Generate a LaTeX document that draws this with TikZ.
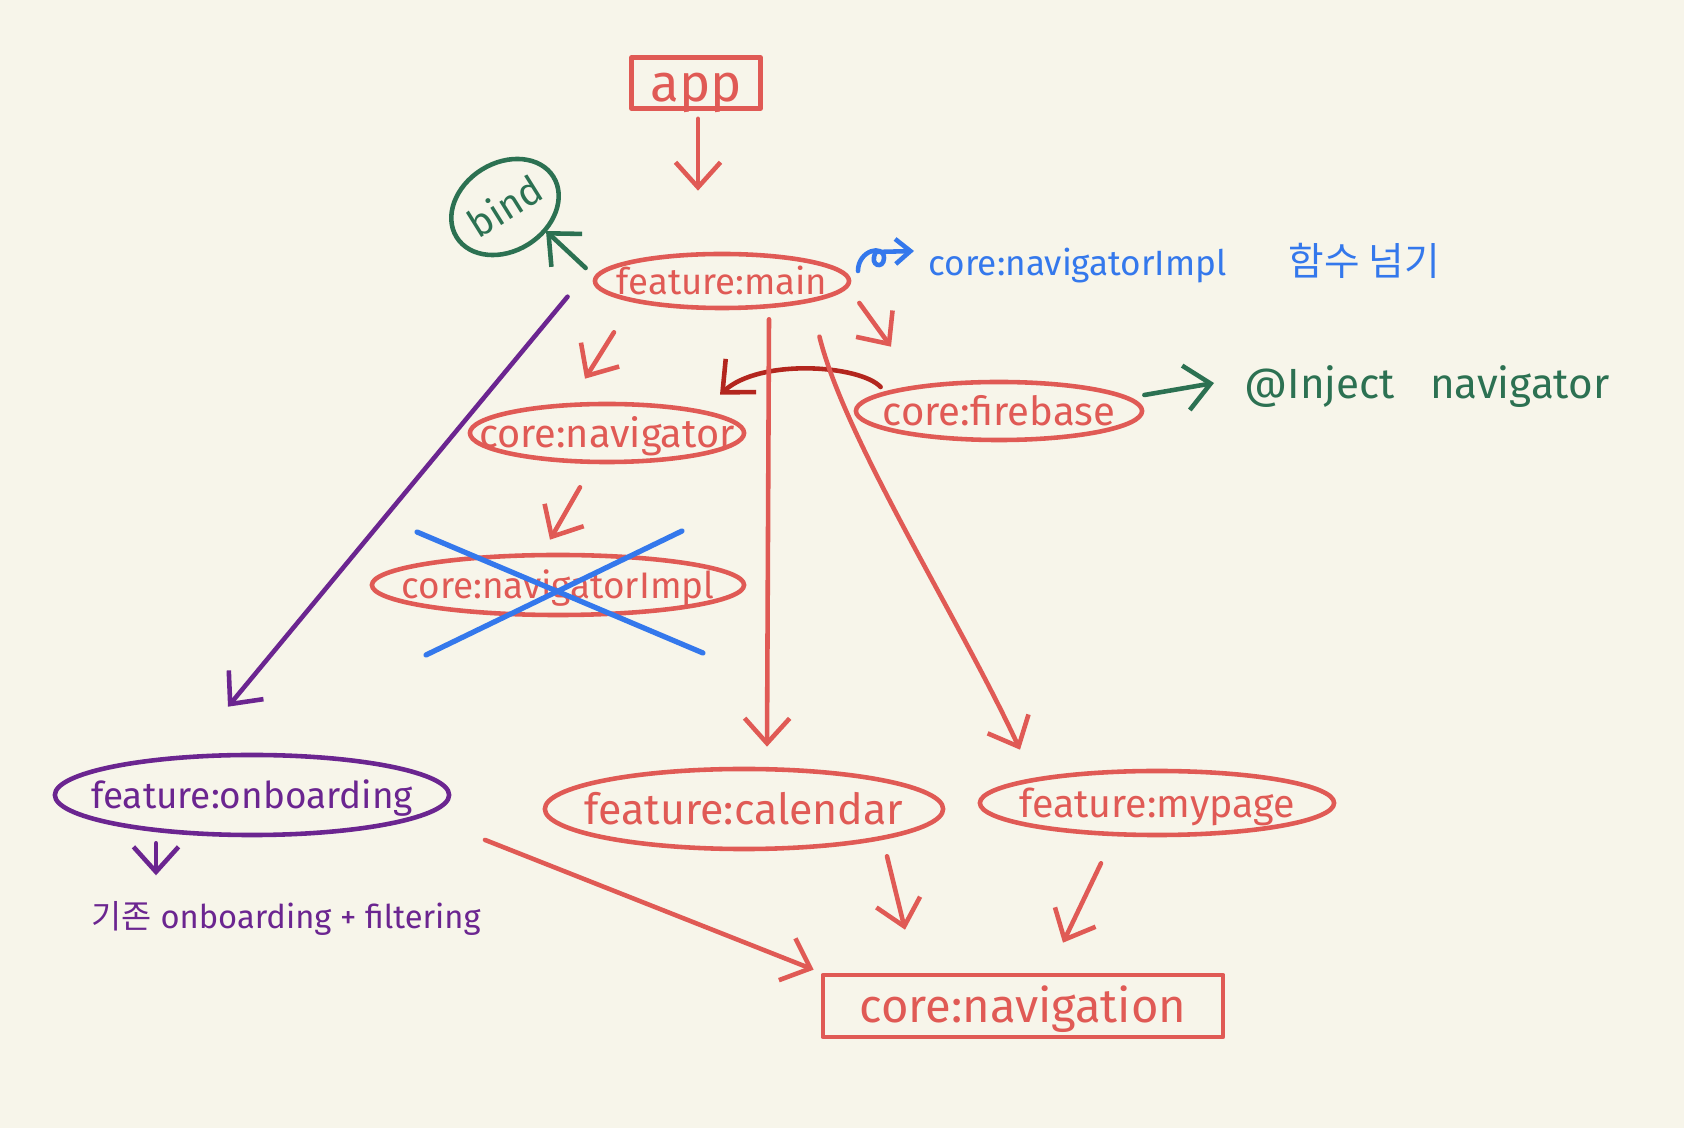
\documentclass[tikz,border=0pt]{standalone}
\usepackage{fontspec}
\setmainfont{Fira Sans}
\newfontfamily\krfont{Noto Sans CJK KR}
\usetikzlibrary{shapes.geometric,arrows.meta,calc}
\definecolor{bgcream}{HTML}{F7F5EA}
\definecolor{penred}{HTML}{E05A55}
\definecolor{pendarkred}{HTML}{B3261E}
\definecolor{penpurple}{HTML}{6B2590}
\definecolor{pengreen}{HTML}{2C7152}
\definecolor{penblue}{HTML}{3478EC}
% text that does not size the ellipse round it
\newcommand{\modtext}[1]{\makebox[0pt]{\raisebox{-0.36em}[0pt][0pt]{#1}}}
\tikzset{
  pen/.style={line width=1.3pt,line cap=round,line join=round},
  mod/.style={pen,draw=penred,text=penred,ellipse,inner sep=0pt},
  box/.style={pen,draw=penred,text=penred,rectangle,inner sep=0pt},
  hand/.style={pen,-{Straight Barb[length=2.5mm,width=4.5mm]}},
}
\begin{document}
\begin{tikzpicture}[x=0.01cm,y=-0.01cm]
\fill[bgcream] (0,0) rectangle (1684,1128);
\useasboundingbox (0,0) rectangle (1684,1128);
% modules
\node[box,minimum width=1.29cm,minimum height=0.51cm,font=\fontsize{15}{18}\selectfont] (app) at (696,83) {\modtext{app}};
\node[mod,minimum width=2.54cm,minimum height=0.54cm,font=\fontsize{10.4}{13}\selectfont] (main) at (722,281) {\modtext{feature:main}};
\node[pen,draw=pengreen,text=pengreen,ellipse,inner sep=0pt,minimum width=1.14cm,minimum height=0.88cm,rotate=32,font=\fontsize{11}{14}\selectfont] (bind) at (505,207) {\modtext{bind}};
\node[mod,minimum width=2.74cm,minimum height=0.58cm,font=\fontsize{11.3}{14}\selectfont] (navigator) at (607,433) {\modtext{core:navigator}};
\node[mod,minimum width=2.86cm,minimum height=0.58cm,font=\fontsize{11.4}{14}\selectfont] (firebase) at (999,411) {\modtext{core:firebase}};
\node[mod,minimum width=3.72cm,minimum height=0.6cm,font=\fontsize{10.5}{13}\selectfont] (navImpl) at (558,585) {\modtext{core:navigatorImpl}};
\node[mod,draw=penpurple,text=penpurple,minimum width=3.94cm,minimum height=0.8cm,font=\fontsize{10.5}{13}\selectfont] (onboarding) at (252,795) {\modtext{feature:onboarding}};
\node[mod,minimum width=3.98cm,minimum height=0.8cm,font=\fontsize{12.2}{14}\selectfont] (calendar) at (744,809) {\modtext{feature:calendar}};
\node[mod,minimum width=3.54cm,minimum height=0.64cm,font=\fontsize{11.2}{14}\selectfont] (mypage) at (1157,803) {\modtext{feature:mypage}};
\node[box,minimum width=4.0cm,minimum height=0.62cm,font=\fontsize{13.4}{16}\selectfont] (navigation) at (1023,1006) {\modtext{core:navigation}};
% notes
\node[text=penblue,anchor=west,inner sep=0pt,font=\fontsize{10}{13}\selectfont] (implNote) at (928,263) {core:navigatorImpl\hspace{0.62cm}{\krfont\fontsize{11}{13}\selectfont 함수 넘기}};
\node[text=pengreen,anchor=west,inner sep=0pt,font=\fontsize{12}{15}\selectfont] (inject) at (1244,387) {@Inject\hspace{0.35cm}navigator};
\node[text=penpurple,anchor=west,inner sep=0pt,font=\fontsize{9.3}{12}\selectfont] (legacy) at (91,918) {{\krfont 기존} onboarding + filtering};

% arrows
\draw[hand,penred] ($(app.south)+(2,8)$) -- ($(main.north)+(-24,-61)$);
\draw[hand,pengreen] ($(main.west)+(-7,-13)$) -- ($(bind)+(41,24)$);
\draw[hand,penred] ($(main.south)+(-108,22)$) -- ($(navigator.north)+(-22,-23)$);
\draw[hand,penred] ($(main.east)+(8,22)$) -- ($(firebase.north)+(-108,-33)$);
\draw[hand,pendarkred] ($(firebase.west)+(27,-24)$) .. controls (860,365) and (760,358) .. ($(navigator.north)+(113,-7)$);
\draw[hand,pengreen] ($(firebase.east)+(0,-16)$) -- ($(inject.west)+(-30,-4)$);
\draw[hand,penred] ($(navigator.south)+(-27,23)$) -- ($(navImpl.north)+(-8,-13)$);
\draw[hand,penpurple] ($(main.south west)+(-63,-5)$) -- ($(onboarding.north)+(-24,-46)$);
\draw[hand,penred] ($(main.south)+(47,9)$) -- ($(calendar.north)+(23,-20)$);
\draw[hand,penred] ($(main.south east)+(6,35)$) .. controls (845,440) and (960,620) .. ($(mypage.north)+(-137,-19)$);
\draw[hand,penpurple] ($(onboarding.south)+(-96,6)$) -- ($(legacy.north west)+(65,-25)$);
\draw[hand,penred] ($(onboarding.south east)+(92,15)$) -- ($(navigation.north west)+(-7,-3)$);
\draw[hand,penred] ($(calendar.south)+(143,5)$) -- ($(navigation.north)+(-118,-43)$);
\draw[hand,penred] ($(mypage.south)+(-56,26)$) -- ($(navigation.north)+(40,-30)$);
% cross out
\draw[pen,penblue,line width=1.5pt] ($(navImpl)+(-141,-53)$) -- ($(navImpl)+(145,68)$);
\draw[pen,penblue,line width=1.5pt] ($(navImpl)+(124,-54)$) -- ($(navImpl)+(-132,70)$);
% curl before the blue note
\draw[pen,penblue,-{Straight Barb[length=1.5mm,width=2.5mm]}] ($(implNote.west)+(-70,8)$) .. controls (858,250) and (884,244) .. (884,258) .. controls (884,270) and (868,266) .. (876,252) -- ($(implNote.west)+(-14,-12)$);
\end{tikzpicture}
\end{document}
